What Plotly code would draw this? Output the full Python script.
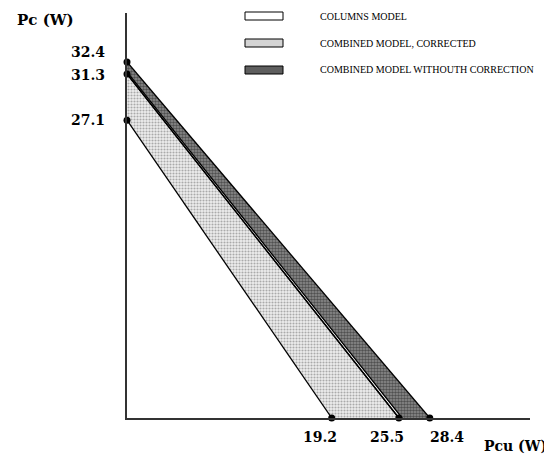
import plotly.graph_objects as go

# ---- data (W) ----
pc_intercepts = [27.1, 31.3, 32.4]      # Pc axis intercepts
pcu_intercepts = [19.2, 25.5, 28.4]     # Pcu axis intercepts
columns_pc = [31.3, 31.5]               # thin "columns model" band
columns_pcu = [25.5, 25.8]
legend_labels = ["COLUMNS MODEL", "COMBINED MODEL, CORRECTED",
                 "COMBINED MODEL WITHOUTH CORRECTION"]

OFF = 8  # browser default body margin
W, H = 552 - OFF, 459 - OFF
L, R, T, B = 127 - OFF, 22, 13 - OFF, 41
pw, ph = W - L - R, H - T - B
def px(x): return (x - OFF - L) / pw
def py(y): return (H - B - (y - OFF)) / ph

fig = go.Figure()

# corrected combined model (light dotted)
fig.add_trace(go.Scatter(
    x=[0, 0, pcu_intercepts[1], pcu_intercepts[0], 0],
    y=[pc_intercepts[0], pc_intercepts[1], 0, 0, pc_intercepts[0]],
    fill="toself", mode="lines", line=dict(color="rgba(0,0,0,0)", width=0),
    fillpattern=dict(shape=".", fgcolor="#666666", bgcolor="#eeeeee", size=3, solidity=0.4),
    hoverinfo="skip", showlegend=False))
# combined model without correction (dark)
fig.add_trace(go.Scatter(
    x=[0, 0, pcu_intercepts[2], pcu_intercepts[1], 0],
    y=[pc_intercepts[1], pc_intercepts[2], 0, 0, pc_intercepts[1]],
    fill="toself", mode="lines", line=dict(color="rgba(0,0,0,0)", width=0),
    fillpattern=dict(shape=".", fgcolor="#111111", bgcolor="#8f8f8f", size=3, solidity=0.55),
    hoverinfo="skip", showlegend=False))
# columns model thin band
fig.add_trace(go.Scatter(
    x=[0, 0, columns_pcu[1], columns_pcu[0], 0],
    y=[columns_pc[0], columns_pc[1], 0, 0, columns_pc[0]],
    fill="toself", mode="lines", line=dict(color="black", width=1.3),
    fillcolor="white", hoverinfo="skip", showlegend=False))

# boundary lines
for a, b in zip(pc_intercepts, pcu_intercepts):
    fig.add_trace(go.Scatter(x=[0, b], y=[a, 0], mode="lines",
                             line=dict(color="black", width=1.3),
                             hoverinfo="skip", showlegend=False))
# points
fig.add_trace(go.Scatter(x=[0] * 3 + pcu_intercepts, y=pc_intercepts + [0] * 3,
                         mode="markers", marker=dict(color="black", size=7),
                         hoverinfo="skip", showlegend=False, cliponaxis=False))

serif = "DejaVu Serif"
ann = []
yshifts = [0, -1, 10]
for v, s in zip(pc_intercepts, yshifts):
    ann.append(dict(x=px(107), xref="paper", xanchor="right", y=v, yref="y",
                    yanchor="middle", yshift=s, text=f"<b>{v}</b>", showarrow=False,
                    font=dict(family=serif, size=14, color="black")))
xshifts = [-12, -12, 17]
for v, s in zip(pcu_intercepts, xshifts):
    ann.append(dict(x=v, xref="x", xanchor="center", xshift=s, y=py(437), yref="paper",
                    yanchor="middle", text=f"<b>{v}</b>", showarrow=False,
                    font=dict(family=serif, size=14, color="black")))
ann.append(dict(x=px(15), xref="paper", xanchor="left", y=py(20), yref="paper",
                yanchor="middle", text="<b>Pc (W)</b>", showarrow=False,
                font=dict(family=serif, size=15, color="black")))
ann.append(dict(x=px(482), xref="paper", xanchor="left", y=py(446), yref="paper",
                yanchor="middle", text="<b>Pcu (W)</b>", showarrow=False,
                font=dict(family=serif, size=14, color="black")))

# legend
rows = [16, 43, 70]
swatch = [dict(fillcolor="white"), dict(fillcolor="#d4d4d4"), dict(fillcolor="#5e5e5e")]
shapes = []
for r, lab, sw in zip(rows, legend_labels, swatch):
    shapes.append(dict(type="rect", xref="paper", yref="paper",
                       x0=px(245), x1=px(283), y0=py(r + 4), y1=py(r - 4),
                       line=dict(color="black", width=1), **sw))
    ann.append(dict(x=px(318), xref="paper", xanchor="left", y=py(r), yref="paper",
                    yanchor="middle", text=lab, showarrow=False,
                    font=dict(family="Liberation Serif", size=10, color="black")))

fig.update_layout(
    width=W, height=H, margin=dict(l=L, r=R, t=T, b=B),
    plot_bgcolor="white", paper_bgcolor="white",
    xaxis=dict(range=[0, 37.8], showgrid=False, zeroline=False, showticklabels=False,
               ticks="", showline=True, linecolor="#333333", linewidth=1.5),
    yaxis=dict(range=[0, 36.85], showgrid=False, zeroline=False, showticklabels=False,
               ticks="", showline=True, linecolor="#333333", linewidth=1.5),
    annotations=ann, shapes=shapes)

fig.write_html("out.html")
